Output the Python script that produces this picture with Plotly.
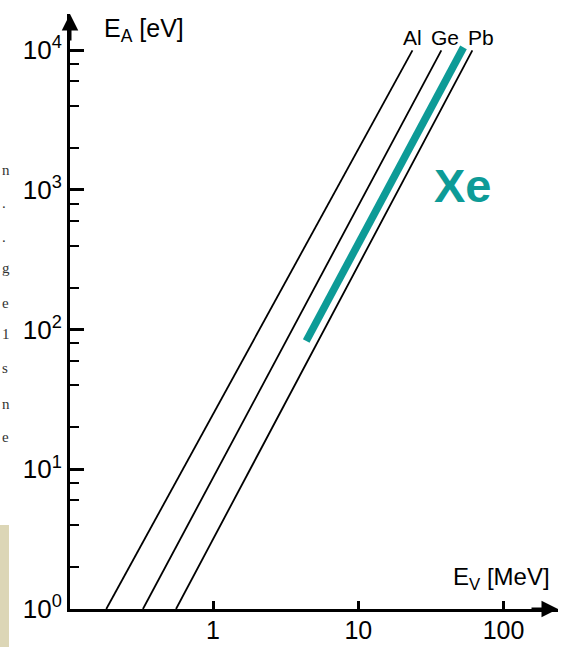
import plotly.graph_objects as go

# ---- data ----
materials = ["Al", "Ge", "Pb"]
line_x = {"Al": [0.184, 23.6], "Ge": [0.329, 37.3], "Pb": [0.556, 61.0]}   # E_V [MeV]
line_y = {"Al": [1.0, 10000.0], "Ge": [1.0, 10000.0], "Pb": [1.0, 10000.0]}  # E_A [eV]
xe_x = [4.38, 53.0]
xe_y = [83.0, 10500.0]

x_ticks = [1, 10, 100]
x_ticklabels = ["1", "10", "100"]
y_ticks = [1, 10, 100, 1000, 10000]
y_ticklabels = ["10<sup>0</sup>", "10<sup>1</sup>", "10<sup>2</sup>", "10<sup>3</sup>", "10<sup>4</sup>"]
y_minor = [m * 10 ** k for k in range(0, 4) for m in (2, 4, 6, 8)]

edge_chars = ["n", ".", ".", "g", "e", "1", "s", "n", "e"]
edge_char_y = [170, 203, 237, 268, 303, 334, 368, 404, 437]  # pixel rows of margin text fragments

TEAL = "#0d9b97"
FONT = "Liberation Sans Narrow, Liberation Sans, Arial, sans-serif"

W, H = 562, 647
ML, MR, MT, MB = 70, 4, 14, 38
PW, PH = W - ML - MR, H - MT - MB
XR = [-0.985, 2.375]
YR = [0, 4.26]

fig = go.Figure()
for m in materials:
    fig.add_trace(go.Scatter(x=line_x[m], y=line_y[m], mode="lines",
                             line=dict(color="black", width=1.8), showlegend=False, hoverinfo="skip"))
fig.add_trace(go.Scatter(x=xe_x, y=xe_y, mode="lines",
                         line=dict(color=TEAL, width=7.5), showlegend=False, hoverinfo="skip"))

fig.update_xaxes(type="log", range=XR, showgrid=False, zeroline=False, automargin=False,
                 showline=True, linecolor="black", linewidth=3,
                 tickmode="array", tickvals=x_ticks, ticktext=x_ticklabels,
                 ticks="inside", ticklen=8, tickwidth=2.5, tickcolor="black",
                 ticklabelstandoff=-3,
                 tickfont=dict(family=FONT, size=25, color="black"))
fig.update_yaxes(type="log", range=YR, showgrid=False, zeroline=False, automargin=False,
                 showline=True, linecolor="black", linewidth=3,
                 tickmode="array", tickvals=y_ticks, ticktext=y_ticklabels,
                 ticks="inside", ticklen=14, tickwidth=2.5, tickcolor="black",
                 tickfont=dict(family=FONT, size=26, color="black"),
                 minor=dict(tickmode="array", tickvals=y_minor, ticks="inside",
                            ticklen=9, tickwidth=2, tickcolor="black"))

ann = []
# axis arrows
ann.append(dict(xref="paper", yref="paper", x=0, y=1, ax=0, ay=28, axref="pixel", ayref="pixel",
                showarrow=True, arrowhead=2, arrowsize=1.1, arrowwidth=3, arrowcolor="black",
                text="", standoff=0, startstandoff=0))
ann.append(dict(xref="paper", yref="paper", x=1, y=0, ax=-28, ay=0, axref="pixel", ayref="pixel",
                showarrow=True, arrowhead=2, arrowsize=1.1, arrowwidth=3, arrowcolor="black",
                text="", standoff=0, startstandoff=0))
# axis titles
ann.append(dict(xref="paper", yref="paper", x=(102 - ML) / PW, y=1 - (30 - MT) / PH,
                xanchor="left", yanchor="middle", showarrow=False,
                text="E<sub>A</sub> [eV]", font=dict(family=FONT, size=25, color="black")))
ann.append(dict(xref="paper", yref="paper", x=(451 - ML) / PW, y=1 - (578 - MT) / PH,
                xanchor="left", yanchor="middle", showarrow=False,
                text="E<sub>V</sub> [MeV]", font=dict(family=FONT, size=24, color="black")))
# material labels
lab_px = {"Al": 412, "Ge": 445, "Pb": 481}
for m in materials:
    ann.append(dict(xref="paper", yref="paper", x=(lab_px[m] - ML) / PW, y=1 - (38 - MT) / PH,
                    xanchor="center", yanchor="middle", showarrow=False,
                    text=m, font=dict(family=FONT, size=21, color="black")))
# Xe label
ann.append(dict(xref="paper", yref="paper", x=(463 - ML) / PW, y=1 - (185 - MT) / PH,
                xanchor="center", yanchor="middle", showarrow=False,
                text="<b>Xe</b>", font=dict(family="Liberation Sans, Arial, sans-serif", size=47, color=TEAL)))
# text fragments at the page edge
for ch, py in zip(edge_chars, edge_char_y):
    ann.append(dict(xref="paper", yref="paper", x=(0 - ML) / PW, y=1 - (py - MT) / PH,
                    xanchor="left", yanchor="middle", showarrow=False,
                    text=ch, font=dict(family="Liberation Serif, serif", size=15, color="#333")))

shapes = [dict(type="rect", xref="paper", yref="paper",
               x0=(0 - ML) / PW, x1=(9 - ML) / PW, y0=1 - (647 - MT) / PH, y1=1 - (525 - MT) / PH,
               fillcolor="#dcd6b6", line=dict(width=0), layer="below")]

fig.update_layout(width=W, height=H, margin=dict(l=ML, r=MR, t=MT, b=MB),
                  paper_bgcolor="white", plot_bgcolor="white",
                  annotations=ann, shapes=shapes, showlegend=False)

fig.write_html("out.html", config={"displayModeBar": False},
               post_script="document.body.style.margin='0';")
